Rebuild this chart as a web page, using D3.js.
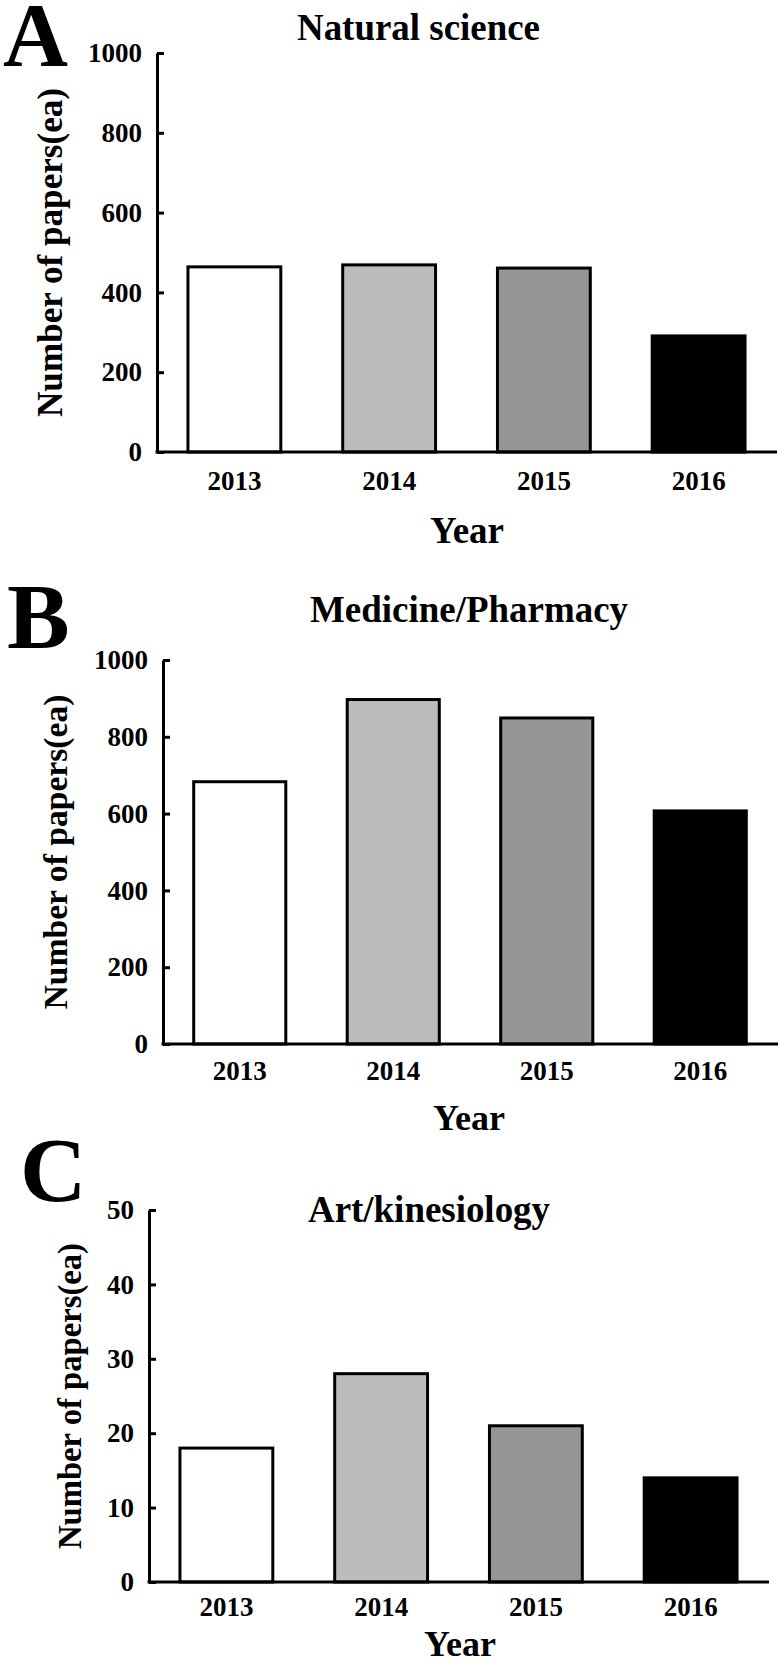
<!DOCTYPE html>
<html>
<head>
<meta charset="utf-8">
<script src="https://cdn.jsdelivr.net/npm/d3@7"></script>
<style>
  html, body { margin: 0; padding: 0; background: #fff; }
  svg { display: block; }
  text { font-family: "Liberation Serif", "Times New Roman", serif; font-weight: bold; fill: #000; }
</style>
</head>
<body>
<svg id="chart" width="779" height="1665"></svg>
<script>
// ---- data ----
const categories = ["2013", "2014", "2015", "2016"];
const naturalScience = [464, 469, 461, 291];
const medicinePharmacy = [683, 897, 849, 607];
const artKinesiology = [18, 28, 21, 14];
const ticksThousand = [0, 200, 400, 600, 800, 1000];
const ticksFifty = [0, 10, 20, 30, 40, 50];
const panelTitles = ["Natural science", "Medicine/Pharmacy", "Art/kinesiology"];
const panelLetters = ["A", "B", "C"];
const yAxisTitle = "Number of papers(ea)";
const xAxisTitle = "Year";

// ---- styles / layout ----
const barFills = ["#ffffff", "#bcbcbc", "#959595", "#000000"];

const panels = [
  { values: naturalScience, ticks: ticksThousand, max: 1000,
    x0: 157, x1: 776, yTop: 53, yZero: 452,
    title: { x: 297, y: 40, w: 243 },
    letter: { x: 3, y: 66, size: 90 },
    ylab: { x: 62, size: 35, len: 329 },
    xPad: 19, year: { x: 467, y: 543, size: 37 } },
  { values: medicinePharmacy, ticks: ticksThousand, max: 1000,
    x0: 163, x1: 777, yTop: 660, yZero: 1044,
    title: { x: 310, y: 622, w: 318 },
    letter: { x: 7, y: 648, size: 94 },
    ylab: { x: 66.5, size: 34, len: 315 },
    xPad: 17, year: { x: 469, y: 1130, size: 36 } },
  { values: artKinesiology, ticks: ticksFifty, max: 50,
    x0: 149, x1: 768, yTop: 1210, yZero: 1582,
    title: { x: 308, y: 1222, w: 242 },
    letter: { x: 20, y: 1201, size: 92 },
    ylab: { x: 81, size: 34, len: 306 },
    xPad: 15, year: { x: 460, y: 1656, size: 36 } }
];

const svg = d3.select("#chart");

panels.forEach((p, i) => {
  const g = svg.append("g");
  const x = d3.scaleBand().domain(categories).range([p.x0, p.x1])
    .paddingInner(0.4).paddingOuter(0.2);
  const y = d3.scaleLinear().domain([0, p.max]).range([p.yZero, p.yTop]);

  // bars
  g.selectAll("rect.bar")
    .data(categories.map((c, j) => ({ c, v: p.values[j], f: barFills[j] })))
    .join("rect")
    .attr("class", "bar")
    .attr("x", d => x(d.c))
    .attr("width", x.bandwidth())
    .attr("y", d => y(d.v))
    .attr("height", d => y(0) - y(d.v))
    .attr("fill", d => d.f)
    .attr("stroke", "#000")
    .attr("stroke-width", 3);

  // y axis
  const ya = g.append("g")
    .attr("transform", `translate(${p.x0},0)`)
    .call(d3.axisLeft(y).tickValues(p.ticks).tickFormat(d3.format("d"))
      .tickSizeInner(-7).tickSizeOuter(0).tickPadding(15));
  ya.select(".domain").attr("stroke-width", 3).attr("stroke", "#000");
  ya.selectAll(".tick line").attr("stroke-width", 3).attr("stroke", "#000");
  ya.selectAll(".tick text").attr("font-size", 27)
    .attr("font-family", '"Liberation Serif", serif').attr("font-weight", "bold").attr("fill", "#000");

  // x axis
  const xa = g.append("g")
    .attr("transform", `translate(0,${p.yZero})`)
    .call(d3.axisBottom(x).tickSize(0).tickPadding(p.xPad));
  xa.select(".domain").attr("stroke-width", 3).attr("stroke", "#000")
    .attr("d", `M${p.x0 - 1.5},0H${p.x1 + 1}`);
  xa.selectAll(".tick text").attr("font-size", 27)
    .attr("font-family", '"Liberation Serif", serif').attr("font-weight", "bold").attr("fill", "#000");

  // panel title
  g.append("text")
    .attr("x", p.title.x).attr("y", p.title.y)
    .attr("font-size", 37)
    .attr("textLength", p.title.w).attr("lengthAdjust", "spacingAndGlyphs")
    .text(panelTitles[i]);

  // panel letter
  g.append("text")
    .attr("x", p.letter.x).attr("y", p.letter.y)
    .attr("font-size", p.letter.size)
    .text(panelLetters[i]);

  // y axis title
  g.append("text")
    .attr("transform", `translate(${p.ylab.x},${(p.yTop + p.yZero) / 2}) rotate(-90)`)
    .attr("text-anchor", "middle")
    .attr("font-size", p.ylab.size)
    .attr("textLength", p.ylab.len).attr("lengthAdjust", "spacingAndGlyphs")
    .text(yAxisTitle);

  // x axis title
  g.append("text")
    .attr("x", p.year.x).attr("y", p.year.y)
    .attr("text-anchor", "middle")
    .attr("font-size", p.year.size)
    .text(xAxisTitle);
});
</script>
</body>
</html>
